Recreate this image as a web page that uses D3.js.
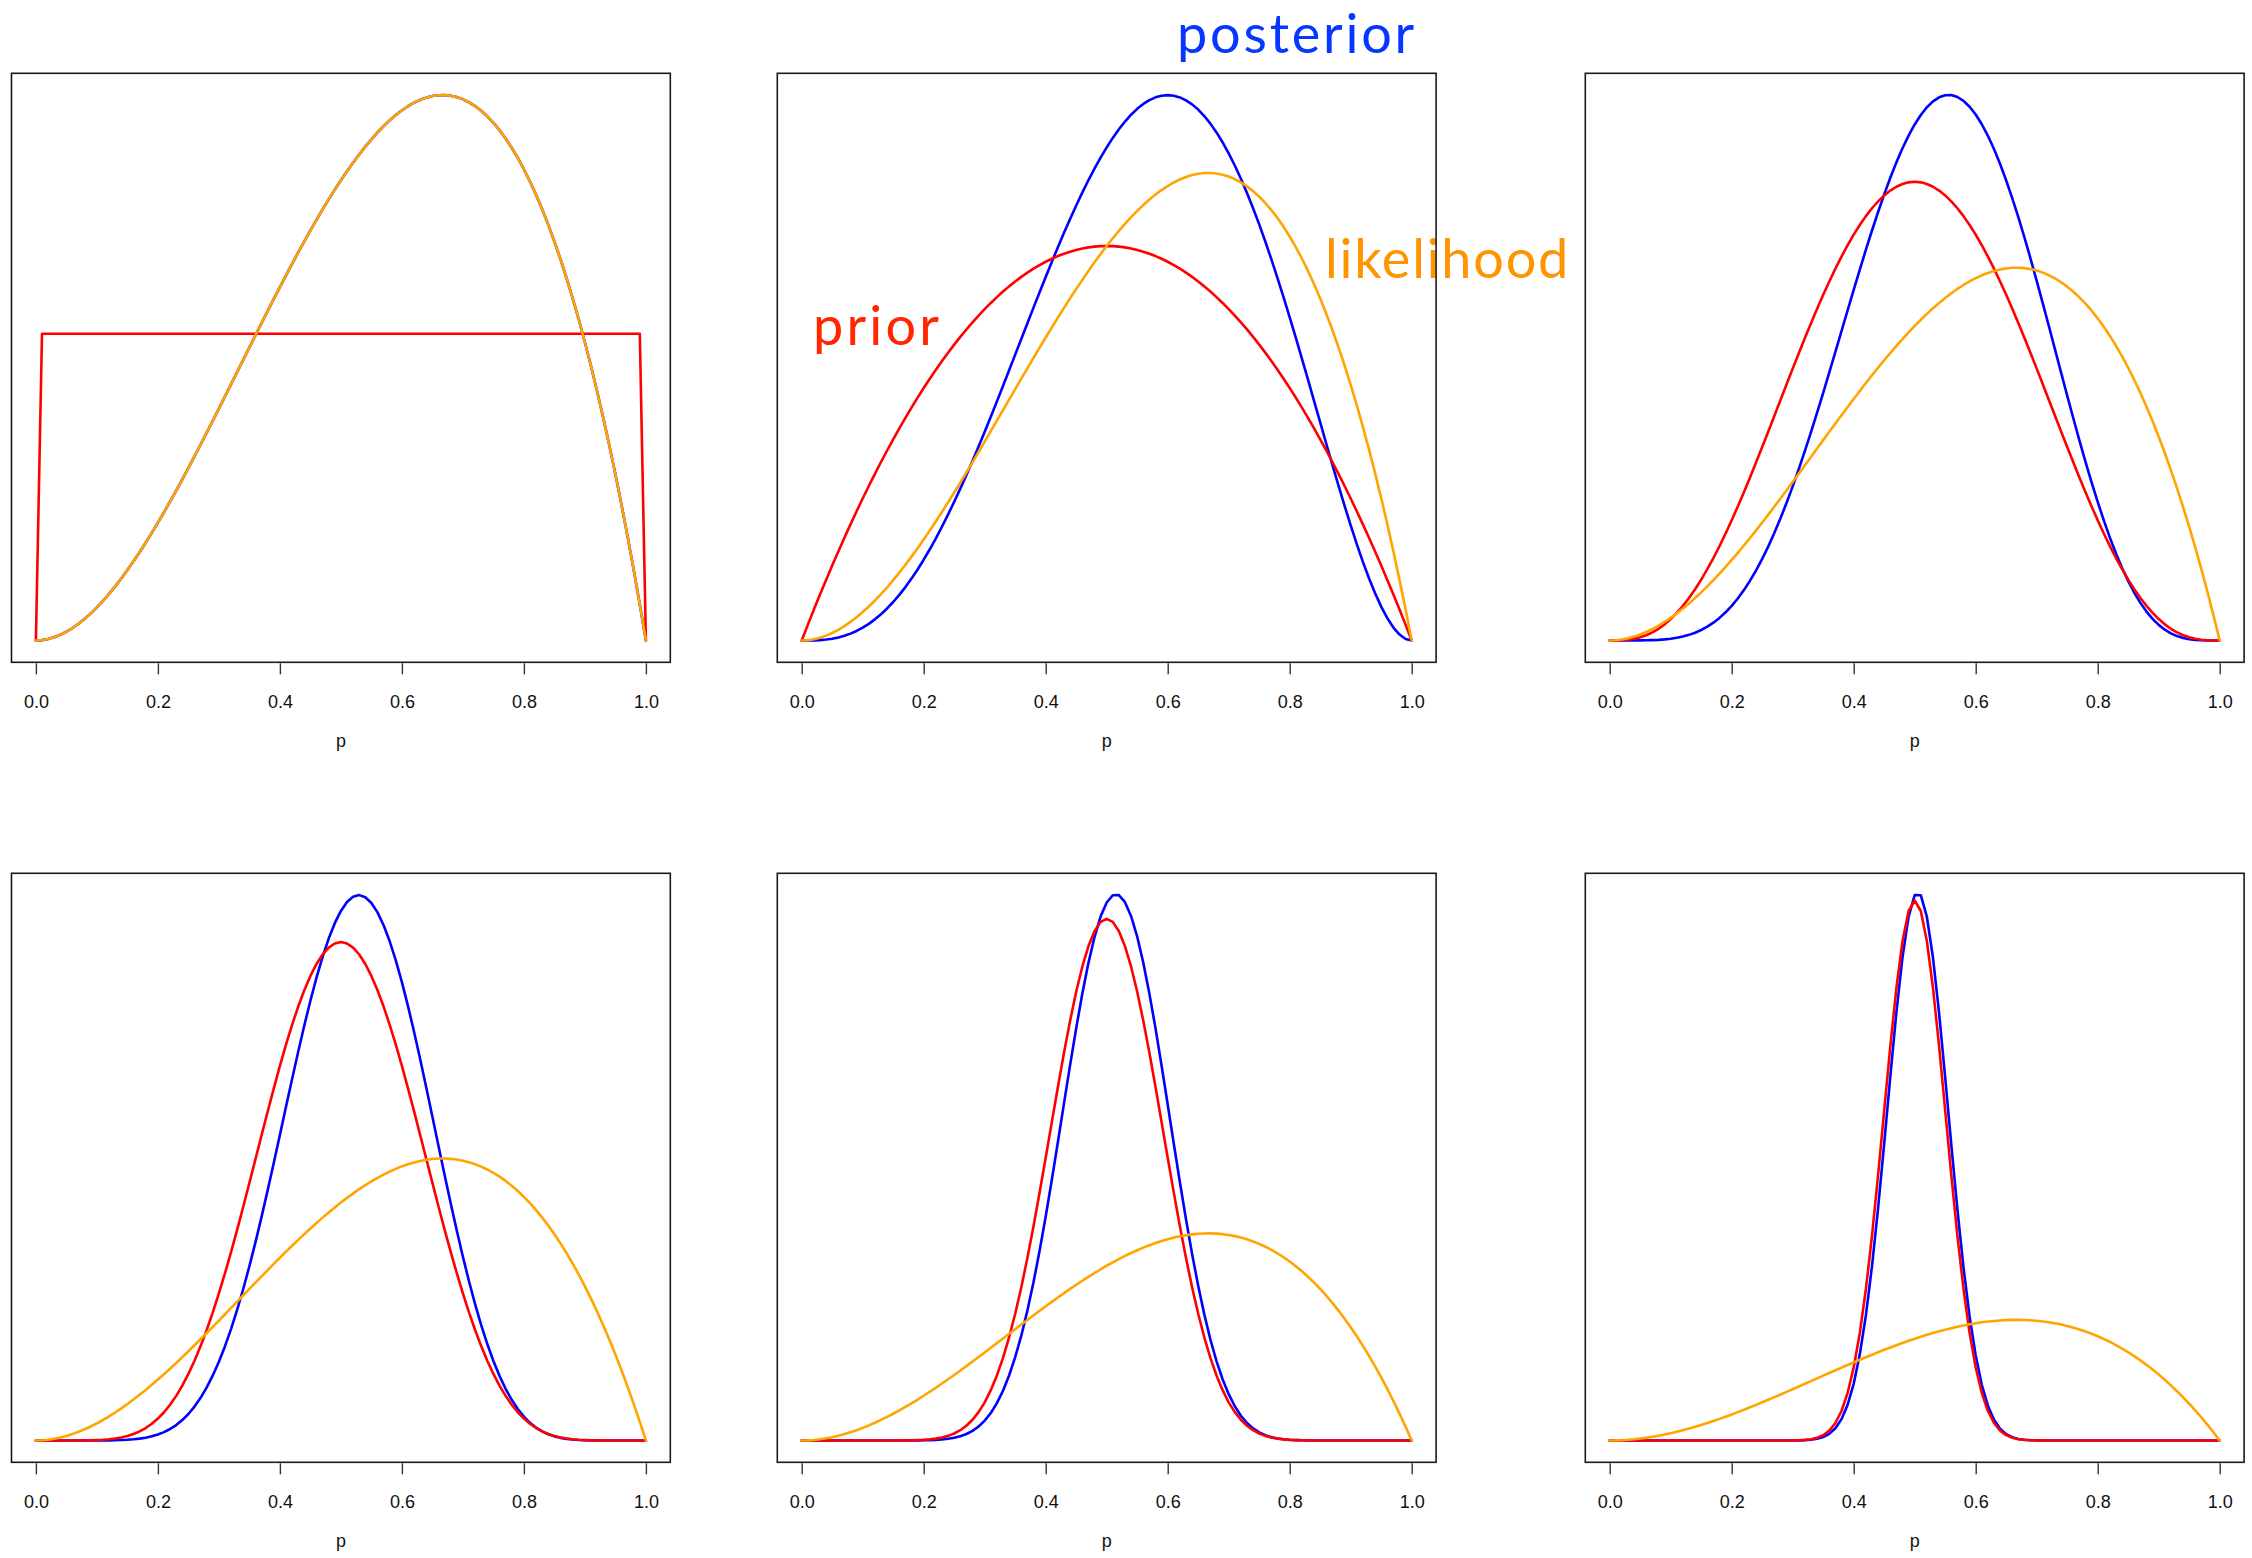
<!DOCTYPE html>
<html>
<head>
<meta charset="utf-8">
<script src="https://cdn.jsdelivr.net/npm/d3@7"></script>
<style>
  body { margin: 0; background: #ffffff; }
  svg { display: block; }
</style>
</head>
<body>
<svg id="chart" width="2252" height="1558"></svg>
<script>
// Symmetric Beta(a, a) prior used in each of the six panels
const priorShape = [1, 2, 4, 8, 16, 50];
// Observed data: 2 successes and 1 failure
const successes = 2;
const failures = 1;
// Evaluation grid for p
const gridCount = 101;
// Axis ticks
const xTicks = [0, 0.2, 0.4, 0.6, 0.8, 1.0];
const xTickLabels = ["0.0", "0.2", "0.4", "0.6", "0.8", "1.0"];
// Curves drawn in this order (later ones on top)
const seriesNames = ["posterior", "prior", "likelihood"];
const seriesColors = { posterior: "#0000ff", prior: "#ff0000", likelihood: "#ffa500" };
// Annotation words
const annotations = [
  { text: "posterior", color: "#0636ff", x0: 1177, x1: 1417, baseline: 53 },
  { text: "likelihood", color: "#ff9400", x0: 1325, x1: 1570, baseline: 278 },
  { text: "prior", color: "#ff2600", x0: 813, x1: 942, baseline: 345 }
];
const annotationSize = 54;

// Panel layout
const colLeft = [11.5, 777.3, 1585.3];
const rowTop = [73.3, 873.3];
const panelW = 658.8;
const panelH = 589;

// log-gamma (Lanczos approximation)
function lgamma(z) {
  const c = [0.99999999999980993, 676.5203681218851, -1259.1392167224028,
    771.32342877765313, -176.61502916214059, 12.507343278686905,
    -0.13857109526572012, 9.9843695780195716e-6, 1.5056327351493116e-7];
  if (z < 0.5) return Math.log(Math.PI / Math.sin(Math.PI * z)) - lgamma(1 - z);
  z -= 1;
  let x = c[0];
  for (let i = 1; i < 9; i++) x += c[i] / (z + i);
  const t = z + 7.5;
  return 0.5 * Math.log(2 * Math.PI) + (z + 0.5) * Math.log(t) - t + Math.log(x);
}
// Beta density on the open interval, zero at the endpoints of the grid
function dbeta(p, a, b) {
  if (p <= 0 || p >= 1) return 0;
  return Math.exp((a - 1) * Math.log(p) + (b - 1) * Math.log(1 - p)
    + lgamma(a + b) - lgamma(a) - lgamma(b));
}

const grid = d3.range(gridCount).map(i => i / (gridCount - 1));
const svg = d3.select("#chart");

// Annotation words (drawn first so the panel frames sit over them)
const annoG = svg.append("g");
annotations.forEach(a => {
  const t = annoG.append("text")
    .attr("x", a.x0).attr("y", a.baseline)
    .attr("fill", a.color)
    .style("font-family", "Lato, 'Open Sans', sans-serif")
    .style("font-size", annotationSize + "px")
    .text(a.text);
  const len = t.node().getComputedTextLength();
  const spacing = (a.x1 - a.x0 - len) / a.text.length;
  t.style("letter-spacing", spacing + "px");
});

priorShape.forEach((a, i) => {
  const col = i % 3, row = Math.floor(i / 3);
  const left = colLeft[col], top = rowTop[row];
  const g = svg.append("g").attr("transform", `translate(${left},${top})`);

  const curves = {
    prior: grid.map(p => [p, dbeta(p, a, a)]),
    likelihood: grid.map(p => [p, dbeta(p, successes + 1, failures + 1)]),
    posterior: grid.map(p => [p, dbeta(p, a + successes, a + failures)])
  };
  const yMax = d3.max(seriesNames, s => d3.max(curves[s], d => d[1]));

  // 4% padding on both axes
  const x = d3.scaleLinear().domain([-0.04, 1.04]).range([0, panelW]);
  const y = d3.scaleLinear().domain([-0.04 * yMax, 1.04 * yMax]).range([panelH, 0]);

  const line = d3.line().x(d => x(d[0])).y(d => y(d[1]));
  seriesNames.forEach(s => {
    g.append("path")
      .datum(curves[s])
      .attr("d", line)
      .attr("fill", "none")
      .attr("stroke", seriesColors[s])
      .attr("stroke-width", 2.6)
      .attr("stroke-linejoin", "round")
      .attr("stroke-linecap", "round");
  });

  // Frame
  g.append("rect")
    .attr("x", 0).attr("y", 0)
    .attr("width", panelW).attr("height", panelH)
    .attr("fill", "none")
    .attr("stroke", "#1a1a1a")
    .attr("stroke-width", 1.6);

  // x axis
  const axis = d3.axisBottom(x)
    .tickValues(xTicks)
    .tickFormat((d, k) => xTickLabels[k])
    .tickSize(11)
    .tickPadding(21);
  const ag = g.append("g")
    .attr("transform", `translate(0,${panelH + 1})`)
    .call(axis);
  ag.select(".domain").remove();
  ag.selectAll(".tick line").attr("stroke", "#333").attr("stroke-width", 1.4);
  ag.selectAll(".tick text")
    .attr("fill", "#111")
    .style("font-family", "'Liberation Sans', Arial, sans-serif")
    .style("font-size", "18px");

  g.append("text")
    .attr("x", x(0.5))
    .attr("y", panelH + 85)
    .attr("text-anchor", "middle")
    .attr("fill", "#111")
    .style("font-family", "'Liberation Sans', Arial, sans-serif")
    .style("font-size", "18px")
    .text("p");
});
</script>
</body>
</html>
